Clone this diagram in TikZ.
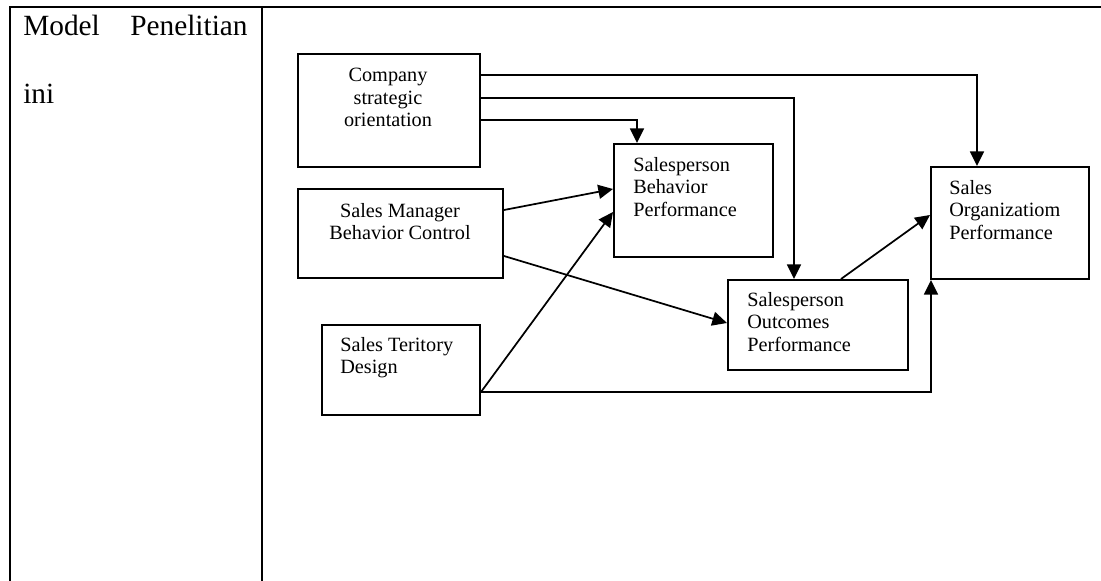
\documentclass[tikz,border=0pt]{standalone}
\usepackage{fontspec}
\setmainfont{Liberation Serif}
\usetikzlibrary{arrows.meta,calc}

% one drawing unit is one pixel: 0.75pt
\tikzset{
  box/.style={draw, line width=1.5pt, anchor=north west, inner sep=0pt},
  boxtext/.style={inner sep=0pt, font=\fontsize{15.2}{16.9}\selectfont},
  link/.style={line width=1.3pt, -{Triangle[length=11pt,width=10.5pt]}},
  rule/.style={line width=1.7pt},
  celltext/.style={inner sep=0pt, anchor=base west, font=\fontsize{22}{26}\selectfont}
}

\begin{document}
\begin{tikzpicture}[x=0.75pt, y=-0.75pt]
  \useasboundingbox (0,0) rectangle (1101,581);

  % table frame
  \coordinate (tl) at (9,7);
  \coordinate (tr) at (1101,7);
  \coordinate (lt) at (10,7);
  \coordinate (lb) at (10,581);
  \coordinate (mt) at (262,7);
  \coordinate (mb) at (262,581);
  \draw[rule] (tl) -- (tr);
  \draw[rule] (lt) -- (lb);
  \draw[rule] (mt) -- (mb);

  % left cell
  \node[celltext] (lab1) at (23,36) {Model};
  \node[celltext] (lab2) at (130,36) {Penelitian};
  \node[celltext] (lab3) at (23,104) {ini};

  % boxes (sizes in pt = pixels * 0.75)
  \node[box, minimum width=136.5pt, minimum height=84.75pt] (cso) at (297,53) {};
  \node[box, minimum width=153.75pt, minimum height=66.75pt] (smb) at (297,188) {};
  \node[box, minimum width=118.5pt, minimum height=67.5pt]  (std) at (321,324) {};
  \node[box, minimum width=119.25pt, minimum height=84.75pt] (sbp) at (613,143) {};
  \node[box, minimum width=135pt, minimum height=67.5pt]  (sout) at (727,279) {};
  \node[box, minimum width=118.5pt, minimum height=84pt] (sop) at (930,166) {};

  % box texts
  \node[boxtext, anchor=north, align=center] (cso-t) at (388,68) {Company\\strategic\\orientation};
  \node[boxtext, anchor=north, align=center] (smb-t) at (400,203) {Sales Manager\\Behavior Control};
  \node[boxtext, anchor=north west, align=left] (std-t) at (340,337) {Sales Teritory\\Design};
  \node[boxtext, anchor=north west, align=left] (sbp-t) at (633,157) {Salesperson\\Behavior\\Performance};
  \node[boxtext, anchor=north west, align=left] (sout-t) at (747,292) {Salesperson\\Outcomes\\Performance};
  \node[boxtext, anchor=north west, align=left] (sop-t) at (949,180) {Sales\\Organizatiom\\Performance};

  % connectors
  \draw[link] ($(cso.north east)+(0,22)$) -| ($(sop.north west)+(47,0)$);
  \draw[link] ($(cso.north east)+(0,45)$) -| ($(sout.north west)+(67,0)$);
  \draw[link] ($(cso.north east)+(0,67)$) -| ($(sbp.north west)+(24,0)$);
  \draw[link] ($(smb.north east)+(0,22)$) -- ($(sbp.north west)+(0,46)$);
  \draw[link] ($(std.north east)+(0,68)$) -- ($(sbp.north west)+(0,69)$);
  \draw[link] ($(smb.north east)+(0,68)$) -- ($(sout.north west)+(0,44)$);
  \draw[link] ($(sout.north west)+(114,0)$) -- ($(sop.north west)+(0,49)$);
  \draw[link] ($(std.north east)+(0,68)$) -| ($(sop.south west)+(1,0)$);
\end{tikzpicture}
\end{document}
